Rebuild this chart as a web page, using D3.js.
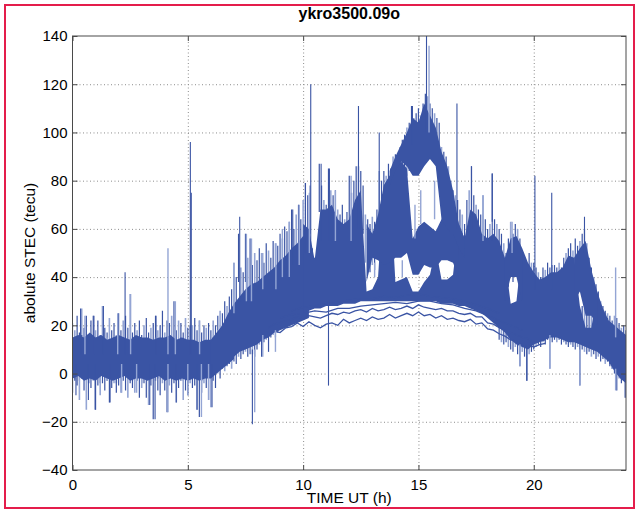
<!DOCTYPE html>
<html>
<head>
<meta charset="utf-8">
<script src="https://cdn.jsdelivr.net/npm/d3@7"></script>
<style>
body { margin:0; background:#fff; }
svg text { font-family: Arial, "Liberation Sans", Helvetica, sans-serif; fill:#000; }
</style>
</head>
<body>
<div id="chart-area"></div>
<script>
/*
*    STEC plot - ykro3500.09o
*/

// ---- data ----
var titleText = "ykro3500.09o";
var xTicks = [0, 5, 10, 15, 20];
var yTicks = [-40, -20, 0, 20, 40, 60, 80, 100, 120, 140];

var step = 0.25; // hours between envelope samples

// [lo, hi] envelopes of the overlapping satellite tracks (dense core)
var nightStart = 0;
var nightBand = [[-2,15],[-1,16],[-3,15],[-2,17],[-3,15],[-1,16],[-2,14],[-3,15],[-2,16],[-1,15],
	[-3,14],[-2,16],[-2,15],[-3,15],[-2,14],[-1,15],[-3,15],[-2,16],[-3,14],[-2,15],
	[-3,14],[-2,14],[-3,13],[-2,14],[-2,14],[0,17],[2,20],[4,24],[6,28]];

var dawnStart = 6;
var dawnBand = [[0,13],[1,16],[3,20],[5,25],[7,29],[9,32],[10,35],[11,37],[12,38],[14,40],
	[15,42],[17,44],[18,47],[19,49],[20,52],[21,54],[22,57],[23,58]];

var dayStart = 10;
var dayBand = [[25,62],[26,60],[27,47],[27,68],[28,68],[28,70],[28,64],[29,62],[29,64],[29,72],
	[30,76],[30,34],[30,35],[30,40],[30,78],[30,82],[30,38],[30,39],[30,40],[30,34],
	[30,34],[30,38],[30,41],[30,52],[29,39],[29,39],[29,41],[28,62],[28,56],[27,68],
	[26,66],[25,58],[23,56],[21,58],[19,55],[17,48],[14,29],[12,30],[11,52],[10,46],
	[12,42],[13,39],[14,40],[15,42],[15,42],[14,44],[13,49],[13,48],[12,28],[11,19],
	[10,19],[9,34],[7,27],[5,22],[1,20],[-2,18],[-4,16]];

var midStart = 12.75;
var midBand = [[38,62],[48,58],[47,66],[45,78],[46,82],[48,86],[48,88],[50,85],[41,56],[41,61],
	[45,63],[44,61],[44,59],[47,64],[47,68],[46,72],[40,62]];

var archStart = 13.75;
var archBand = [[78,84],[84,90],[88,95],[86,100],[82,106],[82,104],[86,112],[89,107],[86,102],[64,92],
	[60,86],[58,76],[52,62],[48,56]];

var eveStart = 18.75;
var eveBand = [[30,48],[40,56],[40,57],[30,52]];

var lateStart = 21.75;
var lateBand = [[30,48],[34,52],[24,55],[24,43],[20,34]];

// noisy fringe: extreme values every 0.1 h (null where the edge is a clean track)
var tipStep = 0.1;
var topTips = [
	21,18,24,17,27,19,24,16,22,24,
	18,22,16,28,19,17,23,18,21,16,
	25,18,22,24,19,33,17,21,18,22,
	16,20,23,17,19,21,24,18,20,26,
	17,22,21,24,30,18,22,21,17,23,
	19,20,20,23,18,22,17,20,19,21,
	18,22,20,24,26,25,30,28,32,35,
	46,40,58,44,42,58,48,56,45,50,
	47,52,50,46,54,51,48,55,54,53,
	58,56,61,59,63,68,60,66,70,64,
	72,79,74,78,52,48,50,87,78,72,
	70,85,76,74,76,68,66,70,64,67,
	82,75,80,86,86,84,78,66,64,62,
	65,63,68,84,80,84,82,87,85,90,
	91,89,94,97,99,102,104,111,106,108,
	110,107,112,116,115,112,110,108,106,104,
	94,92,90,86,80,76,74,72,68,66,
	62,72,76,86,74,70,68,66,74,64,
	60,62,83,64,62,60,58,54,50,56,
	63,58,62,60,56,50,48,46,50,46,
	46,44,42,40,44,43,46,44,45,45,
	44,46,44,48,50,52,54,51,56,53,
	55,58,60,54,48,44,40,37,34,30,
	28,26,25,24,22,24,23,21,19,20,
	18];
var bottomTips = [
	-8,-3,-5,-11,-2,-7,-15,-4,-6,-3,
	-15,-5,-9,-4,-7,-3,-12,-6,-4,-8,
	-5,-8,-3,-7,-10,-4,-6,-8,-3,-10,
	-6,-4,-10,-13,-5,-19,-3,-7,-9,-4,
	-7,-16,-5,-8,-4,-12,-6,-3,-11,-7,
	-9,-4,-6,-5,-15,-18,-8,-4,-6,-11,
	-14,-3,-6,0,-2,2,1,3,4,2,
	5,4,7,6,8,9,7,8,8,7,
	10,12,7,13,14,9,15,16,15,17,
	null,null,null,null,null,null,null,null,null,null,
	null,null,null,null,null,null,null,null,null,null,
	null,null,null,null,null,null,null,null,null,null,
	null,null,null,null,null,null,null,null,null,null,
	null,null,null,null,null,null,null,null,null,null,
	null,null,null,null,null,null,null,null,null,null,
	null,null,null,null,null,null,null,null,null,null,
	null,null,null,null,null,null,null,null,null,null,
	null,null,null,null,null,null,null,null,null,null,
	null,null,null,null,null,14,13,12,13,11,
	10,9,11,8,3,9,7,-3,8,9,
	10,11,12,11,13,12,14,2,13,14,
	13,14,12,13,12,11,12,11,10,11,
	-5,10,9,8,9,7,8,6,7,5,
	6,4,5,3,2,0,-7,-2,-4,-3,
	-10];

// the quiet low-elevation tracks under the daytime mass
var trackA = {start: 8.5, step: 0.25, v: [16,17.5,17,19,19.5,21,19.5,21.5,20,19,20.5,21,20,22.5,21,22,23,22,23.5,22.5,
	23,24.5,23,24,25,24,25.5,24,24.5,23,24,22.5,23,22,21.5,22.5,20.5,21,18.5,18,16.5,15.5,14,13.5,12,12,11,12,12.5]};
var trackB = {start: 8.5, step: 0.25, v: [19,20.5,21,22,22.5,23.5,22.5,24,23.5,23,24,25,24.5,25.5,25,26,26.5,25.5,27,26,
	26.5,27.5,26.5,27,28,27,28.5,27.5,27,26.5,27,26,26,25,24.5,25,23.5,23.5,21,20.5,19,18,17,16,15,14.5,13,13.5,14]};
var trackC = {start: 9, step: 0.5, v: [23,24.5,25,26,25.5,27,27,28,28.5,29,29.5,29,30,30,29,28.5,27,26,24,22,20,18]};
var trackD = {start: 9.5, step: 0.5, v: [26,27.5,28,29,29.5,30.5,31,31,32,31.5,32.5,33,32,31.5,31,30,28.5,27,25]};

// outliers [hour, from, to]
var spikesDark = [[0.35,8,27],[0.93,8,24],[1.34,8,28],[2.28,8,42],[3.62,8,24],[5.11,8,96],[5.15,8,75],
	[0.69,-11,4],[0.98,-15,4],[1.63,-12,4],[3.58,-19,4],[4.5,-12,4],[5.4,-15,4],[7.8,-21,10],[11.1,-5,30],
	[7.25,30,65],[9.55,45,68],[10.1,50,79],[10.33,50,120],[10.78,55,87],[11.14,55,85],[12.4,60,111],[13.3,60,100],
	[14.74,95,111],[15.35,100,140],[16.67,60,112],[17.3,60,86],[18.2,55,83],[20.05,35,82],[20.78,35,75],[22.2,50,65],
	[19.7,-3,12],[23.96,-10,0],[0.15,-9,4],[3.35,-13,4],[6.05,-14,4]];
var spikesLight = [[0.54,8,24],[1.96,8,25],[2.52,8,33],[4.14,8,52],[4.46,8,30],[5.51,8,22],
	[2.13,-8,4],[2.78,-8,4],[4.14,-16,4],[5.0,-9,4],[5.59,-18,4],[7.9,-16,10],[5.9,-11,4],
	[7.0,25,46],[7.54,30,58],[7.76,30,56],[8.25,35,50],[8.82,35,54],[9.1,40,60],[9.4,40,63],[9.83,45,70],
	[10.27,50,75],[11.4,55,76],[12.08,55,82],[15.46,100,136],[17.8,55,74],[19.06,50,63],[23.55,15,44],
	[8.25,7,16],[8.8,9,18],[19.4,3,12],[20.7,2,16],[22.0,-5,10],[23.55,-7,2],
	[14.85,56,70],[15.1,62,76],[13.1,40,46],[14.3,40,47],[15.7,64,80]];

// ---- layout ----
var W = 639, H = 515;
var margin = {left:72.5, right:13, top:36, bottom:45};
var width = W - margin.left - margin.right,
	height = H - margin.top - margin.bottom;

var blue = "#3a54a4", lightBlue = "#94a5d4";

var svg = d3.select("#chart-area")
	.append("svg")
		.attr("width", W)
		.attr("height", H);

svg.append("rect")
	.attr("width", W).attr("height", H)
	.attr("fill", "#fff");

// red figure frame
svg.append("rect")
	.attr("x", 5).attr("y", 5)
	.attr("width", 629).attr("height", 503)
	.attr("fill", "none")
	.attr("stroke", "#e41d4b")
	.attr("stroke-width", 2);

var canvas = svg.append("g")
	.attr("transform", "translate(" + margin.left + ", " + margin.top + ")");

//scales
var x = d3.scaleLinear()
	.domain([0, 24])
	.range([0, width]);

var y = d3.scaleLinear()
	.domain([-40, 140])
	.range([height, 0]);

//grid
var gridX = canvas.append("g")
	.attr("transform", "translate(0, " + height + ")")
	.call(d3.axisBottom(x).tickValues(xTicks.filter(function(d){ return d > 0; }))
		.tickSize(-height).tickFormat(""));
var gridY = canvas.append("g")
	.call(d3.axisLeft(y).tickValues(yTicks.filter(function(d){ return d > -40 && d < 140; }))
		.tickSize(-width).tickFormat(""));
[gridX, gridY].forEach(function(g){
	g.select(".domain").remove();
	g.selectAll("line")
		.attr("stroke", "#8c8c8c")
		.attr("stroke-dasharray", "1,2.5");
});

// clip
canvas.append("clipPath").attr("id", "plot-clip")
	.append("rect").attr("width", width).attr("height", height);

var data = canvas.append("g").attr("clip-path", "url(#plot-clip)");

// fringe streaks go underneath the dense core
var tips = [];
topTips.forEach(function(v, i){
	if (v !== null) tips.push({t: i*tipStep, a: v, b: v - 20, i: i});
});
bottomTips.forEach(function(v, i){
	if (v !== null) tips.push({t: i*tipStep, a: v, b: v + 18, i: i + 1});
});

data.selectAll("line.tip")
	.data(tips)
	.enter().append("line")
		.attr("class", "tip")
		.attr("x1", function(d){ return x(d.t); })
		.attr("x2", function(d){ return x(d.t); })
		.attr("y1", function(d){ return y(d.a); })
		.attr("y2", function(d){ return y(d.b); })
		.attr("stroke", function(d){ return d.i % 3 == 1 ? lightBlue : blue; })
		.attr("stroke-width", function(d){ return d.i % 3 == 1 ? 1.6 : 1.2; });

var area = d3.area()
	.x(function(d){ return x(d.t); })
	.y0(function(d){ return y(d.lo); })
	.y1(function(d){ return y(d.hi); });

function toPoints(start, band) {
	return band.map(function(d, i){
		return {t: start + i*step, lo: d[0], hi: d[1]};
	});
}

var bands = [
	toPoints(nightStart, nightBand),
	toPoints(dawnStart, dawnBand),
	toPoints(dayStart, dayBand),
	toPoints(midStart, midBand),
	toPoints(archStart, archBand),
	toPoints(eveStart, eveBand),
	toPoints(lateStart, lateBand)
];

data.selectAll("path.band")
	.data(bands)
	.enter().append("path")
		.attr("class", "band")
		.attr("d", area)
		.attr("fill", blue);

var line = d3.line()
	.x(function(d){ return x(d.t); })
	.y(function(d){ return y(d.v); });

var tracks = [trackA, trackB, trackC, trackD].map(function(tr){
	return tr.v.map(function(v, i){ return {t: tr.start + i*tr.step, v: v}; });
});

data.selectAll("path.track")
	.data(tracks)
	.enter().append("path")
		.attr("class", "track")
		.attr("d", line)
		.attr("fill", "none")
		.attr("stroke", blue)
		.attr("stroke-width", 1.3);

data.selectAll("line.light")
	.data(spikesLight)
	.enter().append("line")
		.attr("class", "light")
		.attr("x1", function(d){ return x(d[0]); })
		.attr("x2", function(d){ return x(d[0]); })
		.attr("y1", function(d){ return y(d[1]); })
		.attr("y2", function(d){ return y(d[2]); })
		.attr("stroke", lightBlue)
		.attr("stroke-width", 1.4);

data.selectAll("line.dark")
	.data(spikesDark)
	.enter().append("line")
		.attr("class", "dark")
		.attr("x1", function(d){ return x(d[0]); })
		.attr("x2", function(d){ return x(d[0]); })
		.attr("y1", function(d){ return y(d[1]); })
		.attr("y2", function(d){ return y(d[2]); })
		.attr("stroke", blue)
		.attr("stroke-width", 1.1);

//axes (ticks point inwards, box all round)
var axisColor = "#4a4a4a";

var xAxis = canvas.append("g")
	.attr("transform", "translate(0, " + height + ")")
	.call(d3.axisBottom(x).tickValues(xTicks).tickSize(-5).tickSizeOuter(0).tickPadding(9));
var xTop = canvas.append("g")
	.call(d3.axisTop(x).tickValues(xTicks).tickSize(-5).tickSizeOuter(0).tickFormat(""));
var yAxis = canvas.append("g")
	.call(d3.axisLeft(y).tickValues(yTicks).tickSize(-5).tickSizeOuter(0).tickPadding(5));
var yRight = canvas.append("g")
	.attr("transform", "translate(" + width + ", 0)")
	.call(d3.axisRight(y).tickValues(yTicks).tickSize(-5).tickSizeOuter(0).tickFormat(""));

[xAxis, xTop, yAxis, yRight].forEach(function(g){
	g.select(".domain").remove();
	g.selectAll("line").attr("stroke", axisColor);
	g.selectAll("text")
		.attr("font-size", 15)
		.attr("fill", "#000");
});

canvas.append("rect")
	.attr("width", width).attr("height", height)
	.attr("fill", "none")
	.attr("stroke", axisColor)
	.attr("stroke-width", 1);

//labels
svg.append("text")
	.attr("x", margin.left + width/2)
	.attr("y", 19)
	.attr("text-anchor", "middle")
	.attr("font-size", 16)
	.attr("font-weight", "bold")
	.text(titleText);

svg.append("text")
	.attr("x", margin.left + width/2)
	.attr("y", 503)
	.attr("text-anchor", "middle")
	.attr("font-size", 15.5)
	.text("TIME UT (h)");

svg.append("text")
	.attr("transform", "translate(35, " + (margin.top + height/2) + ") rotate(-90)")
	.attr("text-anchor", "middle")
	.attr("font-size", 15.5)
	.text("abolute STEC (tecu)");
</script>
</body>
</html>
